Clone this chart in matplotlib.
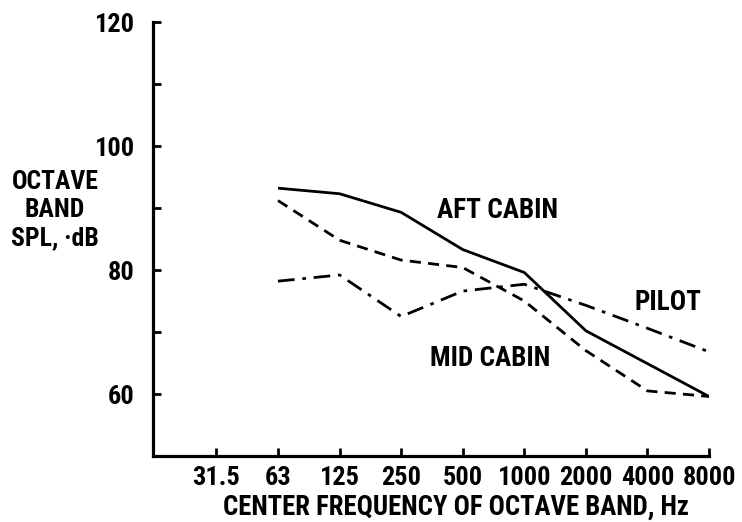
import matplotlib
matplotlib.use("Agg")
import matplotlib.pyplot as plt

# ---- data ----
bands = ["31.5", "63", "125", "250", "500", "1000", "2000", "4000", "8000"]
measured_bands = ["63", "125", "250", "500", "1000", "2000", "4000", "8000"]
aft_cabin = [93.2, 92.3, 89.3, 83.3, 79.6, 70.2, 64.9, 59.6]
mid_cabin = [91.2, 84.8, 81.6, 80.4, 75.0, 67.0, 60.5, 59.6]
pilot = [78.2, 79.2, 72.5, 76.6, 77.7, 74.3, 70.6, 66.8]
y_ticks = [60, 70, 80, 90, 100, 110, 120]
y_tick_labels = ["60", "", "80", "", "100", "", "120"]

plt.rcParams["font.family"] = ["Roboto Condensed", "Archivo Narrow", "Asap Condensed", "DejaVu Sans"]
plt.rcParams["font.weight"] = "bold"
plt.rcParams["axes.labelweight"] = "bold"

fig = plt.figure(figsize=(7.42, 5.22), dpi=100)
ax = fig.add_axes([153 / 742, 1 - 456 / 522, (709 - 153) / 742, (456 - 22) / 522])

xpos = [bands.index(b) for b in measured_bands]
lw = 2.0
ax.plot(xpos, aft_cabin, color="black", lw=lw, solid_capstyle="butt")
ax.plot(xpos, mid_cabin, color="black", lw=lw, dashes=(4.0, 2.6))
ax.plot(xpos, pilot, color="black", lw=lw, dashes=(6, 2.8, 1.3, 2.8))

ax.set_xlim(-1.03, len(bands) - 1)
ax.set_ylim(50, 120)
ax.set_xticks(range(len(bands)))
ax.set_xticklabels(bands)
ax.set_yticks(y_ticks)
ax.set_yticklabels(y_tick_labels)

for s in ["top", "right"]:
    ax.spines[s].set_visible(False)
for s in ["left", "bottom"]:
    ax.spines[s].set_linewidth(2.3)
ax.tick_params(axis="both", direction="in", length=6, width=2.0, labelsize=19)
ax.tick_params(axis="y", pad=13)
ax.tick_params(axis="x", pad=7)

fig.text(456 / 742, 1 - 507 / 522, "CENTER FREQUENCY OF OCTAVE BAND, Hz",
         ha="center", va="center", fontsize=19.3)

fig.text(55 / 742, 1 - 210 / 522, "OCTAVE\nBAND\nSPL, ·dB", ha="center", va="center",
         fontsize=18.5, linespacing=1.2)

ax.text(4.57, 89.6, "AFT CABIN", ha="center", va="center", fontsize=19.5)
ax.text(7.33, 74.8, "PILOT", ha="center", va="center", fontsize=19.5)
ax.text(4.45, 65.8, "MID CABIN", ha="center", va="center", fontsize=19.5)

fig.savefig("out.png", dpi=100)
